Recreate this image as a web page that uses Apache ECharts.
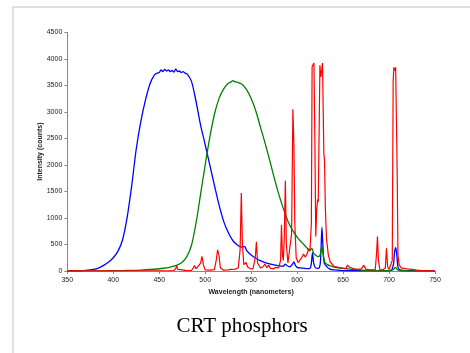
<!DOCTYPE html>
<html>
<head>
<meta charset="utf-8">
<script src="https://cdn.jsdelivr.net/npm/echarts@6/dist/echarts.min.js"></script>
<style>
html,body{margin:0;padding:0;background:#fff;}
#chart{width:470px;height:353px;}
</style>
</head>
<body>
<div id="chart"></div>
<script>
// ---- data ----
var xTicks = [350, 400, 450, 500, 550, 600, 650, 700, 750];
var yTicks = [0, 500, 1000, 1500, 2000, 2500, 3000, 3500, 4000, 4500];

var blueNm = [350,355,360,365,370,375,380,385,390,395,400,405,410,415,420,425,430,435,440,445,448,450,452,454,456,458,460,462,464,466,468,470,472,474,476,478,480,485,490,495,500,505,510,515,520,525,530,535,540,543,545,550,555,560,565,570,575,580,585,587,589,592,595,596.5,598,600,605,610,614,615.5,616.7,618,620,623,625,626,627,628,629.5,632,635,640,650,660,680,700,703,705,706,707.3,708.5,710,713,720,750];
var blueCounts = [2,2,3,5,10,20,35,65,110,170,250,370,580,1000,1600,2300,2820,3220,3530,3700,3730,3740,3790,3760,3800,3770,3790,3760,3780,3750,3810,3760,3770,3740,3760,3730,3720,3580,3200,2750,2380,2000,1620,1250,940,730,575,490,450,460,390,300,240,195,160,135,115,100,90,130,100,80,130,170,110,70,55,45,50,150,340,150,60,50,120,400,820,500,150,90,40,20,8,5,5,5,20,150,350,440,300,60,15,5,2];

var greenNm = [350,370,390,400,410,420,430,440,450,455,460,465,470,475,480,485,490,495,500,505,510,515,520,525,528,530,532,535,540,545,550,555,560,565,570,575,580,585,590,595,600,605,610,614,615.5,616.7,618,620,623,625,626,627,628,630,633,636,640,645,650,655,660,670,680,690,700,705,707,709,712,720,750];
var greenCounts = [3,3,4,5,8,12,18,28,42,52,65,85,115,165,270,480,900,1450,2000,2520,2950,3250,3430,3540,3560,3590,3570,3560,3520,3420,3250,3020,2720,2420,2100,1760,1450,1180,940,770,640,540,450,380,420,410,330,300,270,300,400,460,350,170,120,95,75,60,48,40,32,18,10,8,6,30,70,30,5,2,2];

var redNm = [350,370,390,410,430,450,460,466,468,469,470,472,475,476,477,479,485,487,488.5,490,492,495,496.5,498,500,505,510,512,513.5,515,516.5,520,525,528,530,533,536,538,539.3,540.5,542,544.5,546,549,552,554.5,555.7,557,560,563,565,567,569,571,574,577,580,582,583,584,585,586,587.2,588.3,590,592,594,595.4,596.5,597.5,599,601,603,605,607,609,611,612.5,614,615.5,616.3,617.3,618.3,619.3,620.3,621.3,622.3,623,624,624.8,625.8,626.8,627.6,628.4,629.1,629.8,630.7,632,634,636,640,645,650,653,655,657,659,662,666,670,672.5,675,680,685,686.5,687.4,688.5,690,693,696,697.2,698.5,700,702,703.5,704.5,705.3,706.3,707.2,708,708.9,709.7,711,713,716,720,725,730,740,750];
var redCounts = [5,5,5,5,5,5,5,8,50,95,30,10,20,40,20,8,10,60,100,40,30,150,275,120,20,15,25,200,400,300,60,15,20,30,20,35,60,400,1470,500,120,160,80,40,40,250,550,150,60,80,130,60,110,50,40,70,60,200,870,300,200,600,1700,500,150,130,700,3050,2400,900,250,160,180,250,320,260,330,420,380,900,3850,3830,3920,2500,650,1150,1350,1300,2700,3880,3660,3780,3920,3000,2200,2100,1200,600,300,170,90,70,55,50,110,70,85,40,30,40,110,30,20,25,350,650,200,25,20,60,430,80,30,40,200,3600,3840,3780,3840,3870,1800,300,120,60,50,40,30,15,5,5];

function zip(a, b) { return a.map(function (v, i) { return [v, b[i]]; }); }

var chart = echarts.init(document.getElementById('chart'), null, {renderer: 'canvas'});
var labelFont = {fontFamily: 'Liberation Sans, Arial, sans-serif', fontSize: 7, color: '#222'};
function plain(v) { return String(v); }
var option = {
  animation: false,
  backgroundColor: '#fff',
  grid: {left: 67.3, right: 35, top: 32.3, bottom: 82, containLabel: false},
  xAxis: {
    type: 'value', min: xTicks[0], max: xTicks[xTicks.length - 1], interval: 50,
    name: 'Wavelength (nanometers)', nameLocation: 'middle', nameGap: 18, nameMoveOverlap: false,
    nameTextStyle: {fontFamily: 'Liberation Sans, Arial, sans-serif', fontSize: 7, fontWeight: 'bold', color: '#222'},
    axisLine: {show: true, lineStyle: {color: '#888', width: 1}},
    axisTick: {show: true, length: 3, lineStyle: {color: '#888'}},
    axisLabel: Object.assign({margin: 6, formatter: plain}, labelFont),
    splitLine: {show: false}
  },
  yAxis: {
    type: 'value', min: yTicks[0], max: yTicks[yTicks.length - 1], interval: 500,
    name: 'Intensity (counts)', nameLocation: 'middle', nameGap: 24, nameRotate: 90, nameMoveOverlap: false,
    nameTextStyle: {fontFamily: 'Liberation Sans, Arial, sans-serif', fontSize: 7, fontWeight: 'bold', color: '#222'},
    axisLine: {show: true, lineStyle: {color: '#888', width: 1}},
    axisTick: {show: true, length: 3, lineStyle: {color: '#888'}},
    axisLabel: Object.assign({margin: 5, formatter: plain}, labelFont),
    splitLine: {show: false}
  },
  series: [
    {type: 'line', name: 'blue', data: zip(blueNm, blueCounts), showSymbol: false, smooth: 0.3,
     lineStyle: {color: '#0000ff', width: 1.3}, itemStyle: {color: '#0000ff'}, z: 2},
    {type: 'line', name: 'green', data: zip(greenNm, greenCounts), showSymbol: false, smooth: 0.3,
     lineStyle: {color: '#008000', width: 1.3}, itemStyle: {color: '#008000'}, z: 3},
    {type: 'line', name: 'red', data: zip(redNm, redCounts), showSymbol: false, smooth: false,
     lineStyle: {color: '#ff0000', width: 1.2}, itemStyle: {color: '#ff0000'}, z: 4}
  ],
  graphic: [
    {type: 'rect', shape: {x: 13, y: 7, width: 600, height: 500}, style: {fill: 'none', stroke: '#d6d6d6', lineWidth: 1.5}, z: -1},
    {type: 'text', x: 242, y: 326, style: {text: 'CRT phosphors', font: '21px "Liberation Serif", "Times New Roman", serif', fill: '#000', textAlign: 'center', textVerticalAlign: 'middle'}}
  ]
};
chart.setOption(option);
</script>
</body>
</html>
